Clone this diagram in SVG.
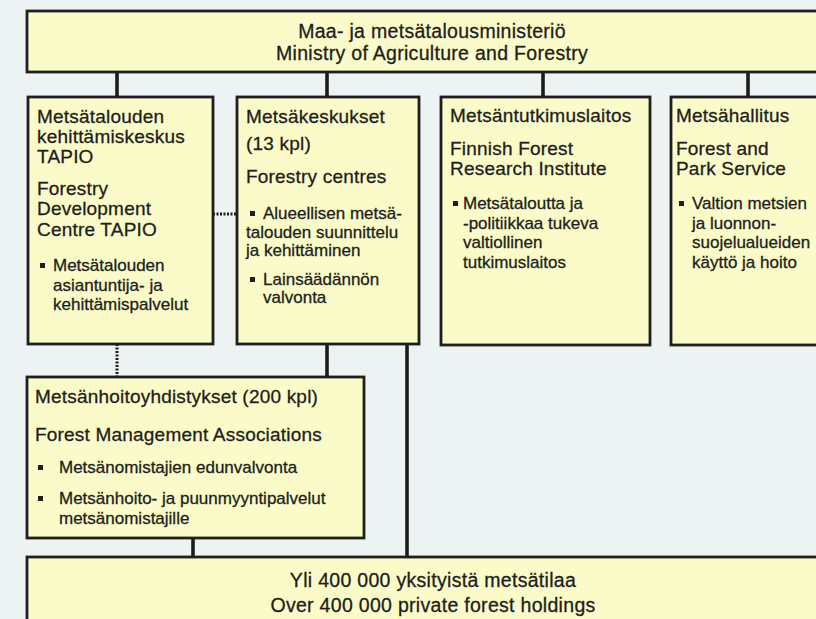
<svg xmlns="http://www.w3.org/2000/svg" width="816" height="619" viewBox="0 0 816 619">
<defs>
<style>
.bg{fill:#edf3f2}
.box{fill:#fafbc8;stroke:#1f1f1f;stroke-width:2.8}
.con{stroke:#1c1c1c;stroke-width:3.6;fill:none}
.dot{stroke:#1c1c1c;stroke-width:3;stroke-dasharray:2 1.5;fill:none}
text{font-family:"Liberation Sans",Arial,sans-serif;fill:#1e1e1e;stroke:#1e1e1e;stroke-width:0.3}
.h{font-size:19px;letter-spacing:0.2px}
.t{font-size:19.5px;letter-spacing:0.3px;text-anchor:middle}
.b{font-size:17px}
.sq{fill:#1e1e1e}
</style>
</defs>
<rect class="bg" x="0" y="0" width="816" height="619"/>

<g id="connectors">
<line class="con" x1="117" y1="72" x2="117" y2="97"/>
<line class="con" x1="327" y1="72" x2="327" y2="97"/>
<line class="con" x1="543" y1="72" x2="543" y2="97"/>
<line class="con" x1="748" y1="72" x2="748" y2="97"/>
<line class="dot" x1="213" y1="214" x2="237" y2="214"/>
<line class="dot" x1="117" y1="344" x2="117" y2="377"/>
<line class="con" x1="327" y1="344" x2="327" y2="377"/>
<line class="con" x1="407" y1="344" x2="407" y2="557"/>
<line class="con" x1="193" y1="538" x2="193" y2="557"/>
</g>

<g id="ministry">
<rect class="box" x="27" y="11" width="810" height="61"/>
<text class="t" x="432" y="38">Maa- ja metsätalousministeriö</text>
<text class="t" x="432" y="60">Ministry of Agriculture and Forestry</text>
</g>

<g id="tapio">
<rect class="box" x="28" y="97" width="185" height="247"/>
<text class="h" x="37" y="123">Metsätalouden</text>
<text class="h" x="37" y="143">kehittämiskeskus</text>
<text class="h" x="37" y="163">TAPIO</text>
<text class="h" x="37" y="195">Forestry</text>
<text class="h" x="37" y="215">Development</text>
<text class="h" x="37" y="236">Centre TAPIO</text>
<rect class="sq" x="40" y="263" width="5" height="5"/>
<text class="b" x="53" y="271">Metsätalouden</text>
<text class="b" x="53" y="291">asiantuntija- ja</text>
<text class="b" x="53" y="310">kehittämispalvelut</text>
</g>

<g id="forestry-centres">
<rect class="box" x="237" y="97" width="182" height="247"/>
<text class="h" x="246" y="123">Metsäkeskukset</text>
<text class="h" x="246" y="150">(13 kpl)</text>
<text class="h" x="246" y="183">Forestry centres</text>
<rect class="sq" x="250" y="211" width="5" height="5"/>
<text class="b" x="263" y="219">Alueellisen metsä-</text>
<text class="b" x="246" y="238">talouden suunnittelu</text>
<text class="b" x="246" y="256">ja kehittäminen</text>
<rect class="sq" x="250" y="277" width="5" height="5"/>
<text class="b" x="263" y="285">Lainsäädännön</text>
<text class="b" x="263" y="303">valvonta</text>
</g>

<g id="research-institute">
<rect class="box" x="441" y="97" width="209" height="248"/>
<text class="h" x="450" y="122">Metsäntutkimuslaitos</text>
<text class="h" x="450" y="155">Finnish Forest</text>
<text class="h" x="450" y="175">Research Institute</text>
<rect class="sq" x="453" y="201" width="5" height="5"/>
<text class="b" x="463" y="209">Metsätaloutta ja</text>
<text class="b" x="463" y="229">-politiikkaa tukeva</text>
<text class="b" x="463" y="248">valtiollinen</text>
<text class="b" x="463" y="268">tutkimuslaitos</text>
</g>

<g id="park-service">
<rect class="box" x="671" y="97" width="170" height="248"/>
<text class="h" x="676" y="122">Metsähallitus</text>
<text class="h" x="676" y="155">Forest and</text>
<text class="h" x="676" y="175">Park Service</text>
<rect class="sq" x="679" y="201" width="5" height="5"/>
<text class="b" x="692" y="209">Valtion metsien</text>
<text class="b" x="692" y="229">ja luonnon-</text>
<text class="b" x="692" y="248">suojelualueiden</text>
<text class="b" x="692" y="268">käyttö ja hoito</text>
</g>

<g id="management-associations">
<rect class="box" x="27" y="377" width="337" height="161"/>
<text class="h" x="35" y="403">Metsänhoitoyhdistykset (200 kpl)</text>
<text class="h" x="35" y="441">Forest Management Associations</text>
<rect class="sq" x="38" y="465" width="5" height="5"/>
<text class="b" x="59" y="473">Metsänomistajien edunvalvonta</text>
<rect class="sq" x="38" y="496" width="5" height="5"/>
<text class="b" x="59" y="504">Metsänhoito- ja puunmyyntipalvelut</text>
<text class="b" x="59" y="524">metsänomistajille</text>
</g>

<g id="private-holdings">
<rect class="box" x="27" y="557" width="810" height="80"/>
<text class="t" x="433" y="587">Yli 400 000 yksityistä metsätilaa</text>
<text class="t" x="433" y="612">Over 400 000 private forest holdings</text>
</g>
</svg>
